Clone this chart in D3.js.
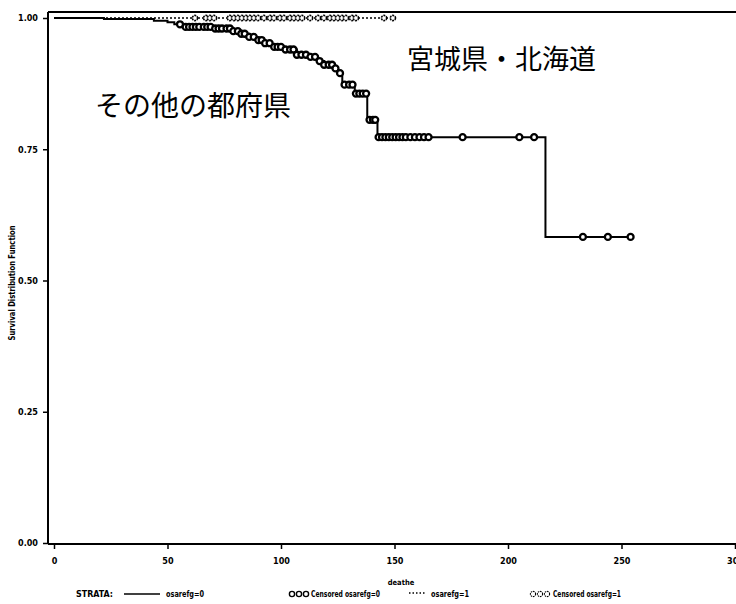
<!DOCTYPE html>
<html><head><meta charset="utf-8">
<script src="https://cdn.jsdelivr.net/npm/d3@7"></script>
<style>
html,body{margin:0;padding:0;background:#fff;}
svg text{font-family:"Liberation Sans Narrow","DejaVu Sans Condensed",sans-serif;font-weight:bold;fill:#000;}
svg text.jp{font-family:"Noto Sans CJK JP",sans-serif;font-weight:normal;}
</style>
</head><body>
<svg id="c" width="736" height="604"></svg>
<script>
// ---- data ----
const xTicks = [0, 50, 100, 150, 200, 250, 300];
const xTickLabels = ["0", "50", "100", "150", "200", "250", "300"];
const yTicks = [0, 0.25, 0.5, 0.75, 1.0];
const yTickLabels = ["0.00", "0.25", "0.50", "0.75", "1.00"];

// strata osarefg=0 : KM step curve (time, survival)
const times0 = [0, 22, 44, 50, 53, 57, 70, 78, 82, 86, 89, 93, 96, 101, 107, 113, 116, 119, 123, 125, 127, 132.5, 138, 142.5, 216.5];
const surv0  = [1, 0.998, 0.995, 0.992, 0.988, 0.983, 0.980, 0.975, 0.970, 0.964, 0.958, 0.952, 0.945, 0.940, 0.930, 0.926, 0.918, 0.911, 0.904, 0.895, 0.873, 0.856, 0.806, 0.773, 0.583];
const end0 = 254;
const censor0 = [55.5, 58, 59.5, 61, 62.5, 64, 66, 67.5, 69, 71, 72.5, 74, 76, 77.5, 79, 81, 82.5, 84, 86, 88, 90, 91.5, 93, 95, 97, 98.5, 100, 102, 104, 105.5, 107, 109, 111, 113, 115, 117, 119, 121, 122.5, 124, 126, 128, 130, 131.5, 133, 134.5, 136, 137.5, 139, 140.5, 141.5, 143, 144.5, 146, 147.5, 149, 150.5, 152, 153.5, 155, 157, 159, 161, 163, 165, 180, 205, 211.5, 233, 244, 254];

// strata osarefg=1 : no events
const times1 = [0];
const surv1 = [1];
const end1 = 149.3;
const censor1 = [62.1, 67, 68.7, 70.5, 77.5, 79.3, 81, 82.8, 84.6, 86.3, 88.1, 89.9, 92.5, 95.2, 96.9, 99.6, 101.3, 104, 105.7, 107.5, 109.3, 112.8, 116.3, 118.9, 121.6, 123.3, 125.1, 126.9, 128.6, 131.3, 133, 145.4, 149.3];

const texts = ["その他の都府県", "宮城県・北海道"];

// ---- chart ----
const svg = d3.select("#c");
const x = d3.scaleLinear().domain([0, 300]).range([54, 735]);
const y = d3.scaleLinear().domain([0, 1]).range([543, 18]);

const frameL = 48, frameT = 12, frameB = 544, frameR = 736;

// frame lines
svg.append("line").attr("x1", frameL).attr("x2", frameR).attr("y1", frameT).attr("y2", frameT).attr("stroke", "#000").attr("stroke-width", 2);
svg.append("line").attr("x1", frameL).attr("x2", frameL).attr("y1", frameT).attr("y2", frameB).attr("stroke", "#000").attr("stroke-width", 2);
svg.append("line").attr("x1", frameL).attr("x2", frameR).attr("y1", frameB).attr("y2", frameB).attr("stroke", "#000").attr("stroke-width", 2);

// y axis
const yAxis = d3.axisLeft(y).tickValues(yTicks).tickSize(5).tickFormat((d, i) => yTickLabels[i]);
const gy = svg.append("g").attr("transform", `translate(${frameL},0)`).call(yAxis);
gy.select(".domain").remove();
gy.selectAll(".tick line").attr("stroke", "#000").attr("stroke-width", 1.5);
gy.selectAll(".tick text").attr("x", -10).style("font-size", "9px").style("font-family", null);

// x axis
const xAxis = d3.axisBottom(x).tickValues(xTicks).tickSize(5).tickFormat((d, i) => xTickLabels[i]);
const gx = svg.append("g").attr("transform", `translate(0,${frameB})`).call(xAxis);
gx.select(".domain").remove();
gx.selectAll(".tick line").attr("stroke", "#000").attr("stroke-width", 1.5);
gx.selectAll(".tick text").attr("y", 14).style("font-size", "9px").style("font-family", null);

// axis titles
svg.append("text").attr("x", 401).attr("y", 585).attr("text-anchor", "middle").style("font-size", "7.5px").text("deathe");
svg.append("text").attr("transform", "translate(15,283) rotate(-90)").attr("text-anchor", "middle")
  .attr("textLength", 115).attr("lengthAdjust", "spacingAndGlyphs").style("font-size", "8px").text("Survival Distribution Function");

// KM step helper
function stepPts(times, surv, end) {
  const pts = times.map((t, i) => [t, surv[i]]);
  pts.push([end, surv[surv.length - 1]]);
  return pts;
}
function survAt(times, surv, t) {
  let s = surv[0];
  for (let i = 0; i < times.length; i++) if (times[i] <= t) s = surv[i];
  return s;
}
const line = d3.line().x(d => x(d[0])).y(d => y(d[1])).curve(d3.curveStepAfter);

// strata 1 dotted
svg.append("path").datum(stepPts(times1, surv1, end1)).attr("d", line)
  .attr("fill", "none").attr("stroke", "#000").attr("stroke-width", 1.5).attr("stroke-dasharray", "2,2");
svg.append("g").selectAll("circle").data(censor1).join("circle")
  .attr("cx", d => x(d)).attr("cy", d => y(survAt(times1, surv1, d))).attr("r", 2.6)
  .attr("fill", "#fff").attr("stroke", "#000").attr("stroke-width", 1.6).attr("stroke-dasharray", "2,0.8");

// strata 0 solid
svg.append("path").datum(stepPts(times0, surv0, end0)).attr("d", line)
  .attr("fill", "none").attr("stroke", "#000").attr("stroke-width", 2);
svg.append("g").selectAll("circle").data(censor0).join("circle")
  .attr("cx", d => x(d)).attr("cy", d => y(survAt(times0, surv0, d))).attr("r", 3)
  .attr("fill", "#fff").attr("stroke", "#000").attr("stroke-width", 2.3);

// Japanese annotations
svg.append("text").attr("class", "jp").attr("x", 95).attr("y", 116).style("font-size", "28px").text(texts[0]);
svg.append("text").attr("class", "jp").attr("x", 407).attr("y", 69).style("font-size", "27px").text(texts[1]);

// legend
const ly = 597;
svg.append("text").attr("x", 76).attr("y", ly).attr("textLength", 37).attr("lengthAdjust", "spacingAndGlyphs").style("font-size", "8px").text("STRATA:");
svg.append("line").attr("x1", 124).attr("x2", 160).attr("y1", ly - 3).attr("y2", ly - 3).attr("stroke", "#000").attr("stroke-width", 1.5);
svg.append("text").attr("x", 166).attr("y", ly).attr("textLength", 38).attr("lengthAdjust", "spacingAndGlyphs").style("font-size", "8px").text("osarefg=0");
[292, 299, 306].forEach(cx => svg.append("circle").attr("cx", cx).attr("cy", ly - 3).attr("r", 2.6).attr("fill", "#fff").attr("stroke", "#000").attr("stroke-width", 1.4));
svg.append("text").attr("x", 311).attr("y", ly).attr("textLength", 69).attr("lengthAdjust", "spacingAndGlyphs").style("font-size", "8px").text("Censored osarefg=0");
svg.append("line").attr("x1", 409).attr("x2", 426).attr("y1", ly - 4).attr("y2", ly - 4).attr("stroke", "#000").attr("stroke-width", 1.3).attr("stroke-dasharray", "1.5,2");
svg.append("text").attr("x", 431).attr("y", ly).attr("textLength", 38).attr("lengthAdjust", "spacingAndGlyphs").style("font-size", "8px").text("osarefg=1");
[533, 540, 547].forEach(cx => svg.append("circle").attr("cx", cx).attr("cy", ly - 3).attr("r", 2.6).attr("fill", "#fff").attr("stroke", "#000").attr("stroke-width", 1.1).attr("stroke-dasharray", "1.6,0.8"));
svg.append("text").attr("x", 553).attr("y", ly).attr("textLength", 68).attr("lengthAdjust", "spacingAndGlyphs").style("font-size", "8px").text("Censored osarefg=1");
</script>
</body></html>
